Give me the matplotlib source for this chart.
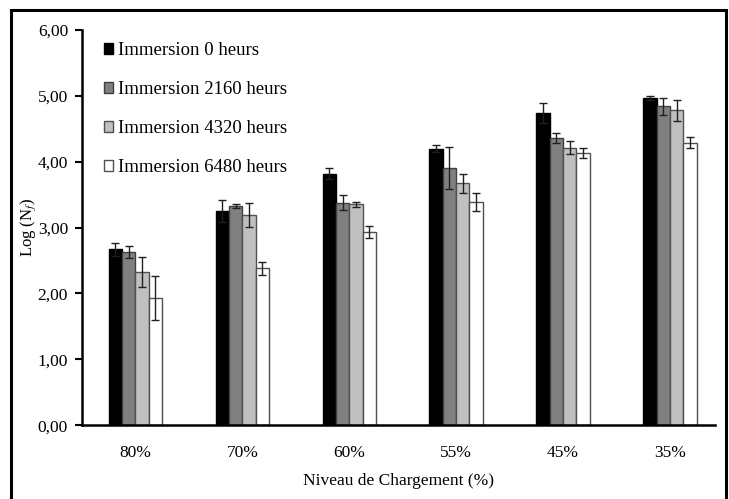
import numpy as np
import matplotlib
matplotlib.use('Agg')
import matplotlib.pyplot as plt
from matplotlib.ticker import FuncFormatter
from matplotlib.patches import Rectangle

plt.rcParams['font.family'] = 'Liberation Serif'
plt.rcParams['mathtext.fontset'] = 'stix'

# niveaux de chargement
niveaux = ['80%', '70%', '60%', '55%', '45%', '35%']

# log(Nf) moyen pour chaque duree d'immersion
imm_0 = [2.67, 3.25, 3.82, 4.20, 4.74, 4.96]
imm_2160 = [2.63, 3.32, 3.38, 3.91, 4.36, 4.84]
imm_4320 = [2.32, 3.19, 3.35, 3.67, 4.21, 4.78]
imm_6480 = [1.93, 2.38, 2.93, 3.39, 4.13, 4.29]

# ecarts-types
err_0 = [0.10, 0.17, 0.09, 0.05, 0.15, 0.03]
err_2160 = [0.09, 0.03, 0.12, 0.32, 0.08, 0.13]
err_4320 = [0.23, 0.18, 0.04, 0.15, 0.10, 0.16]
err_6480 = [0.34, 0.10, 0.09, 0.14, 0.08, 0.08]

labels = ['Immersion 0 heurs', 'Immersion 2160 heurs',
          'Immersion 4320 heurs', 'Immersion 6480 heurs']
couleurs = ['#000000', '#808080', '#c0c0c0', '#ffffff']
bords = ['#000000', '#404040', '#505050', '#505050']

series = [imm_0, imm_2160, imm_4320, imm_6480]
erreurs = [err_0, err_2160, err_4320, err_6480]

fig = plt.figure(figsize=(7.29, 4.99), dpi=100)
ax = fig.add_axes([0.1125, 0.148, 0.868, 0.792])

x = np.arange(len(niveaux))
w = 0.125
for k in range(4):
    pos = x + (k - 1.5) * w
    ax.bar(pos, series[k], w, color=couleurs[k], edgecolor=bords[k],
           linewidth=1.0, label=labels[k], zorder=2)
    ax.errorbar(pos, series[k], yerr=erreurs[k], fmt='none', ecolor='#202020',
                elinewidth=1.0, capsize=3, capthick=1.0, zorder=3)

ax.set_ylim(0, 6)
ax.set_xlim(-0.5, 5.42)
ax.set_yticks(np.arange(0, 6.01, 1))
ax.yaxis.set_major_formatter(FuncFormatter(lambda v, p: '{:.2f}'.format(v).replace('.', ',')))
ax.set_xticks(x)
ax.set_xticklabels(niveaux)
ax.tick_params(axis='x', length=0, pad=14, labelsize=12.5)
ax.tick_params(axis='y', direction='out', length=5, width=1.5, labelsize=12.5, pad=5)

for s in ['top', 'right']:
    ax.spines[s].set_visible(False)
for s in ['left', 'bottom']:
    ax.spines[s].set_linewidth(1.8)

ax.set_ylabel('Log (N$_f$)', fontsize=12, labelpad=0)
ax.set_xlabel('Niveau de Chargement (%)', fontsize=12.5, labelpad=9)

leg = ax.legend(loc='upper left', bbox_to_anchor=(0.023, 0.988), frameon=False,
                fontsize=13.5, handlelength=0.5, handleheight=0.5,
                handletextpad=0.25, labelspacing=1.17, borderaxespad=0)

# cadre autour de la figure
fig.patches.append(Rectangle((0.015, -0.05), 0.981, 1.03, transform=fig.transFigure,
                             fill=False, edgecolor='black', linewidth=2.2))

fig.savefig('out.png', dpi=100)
